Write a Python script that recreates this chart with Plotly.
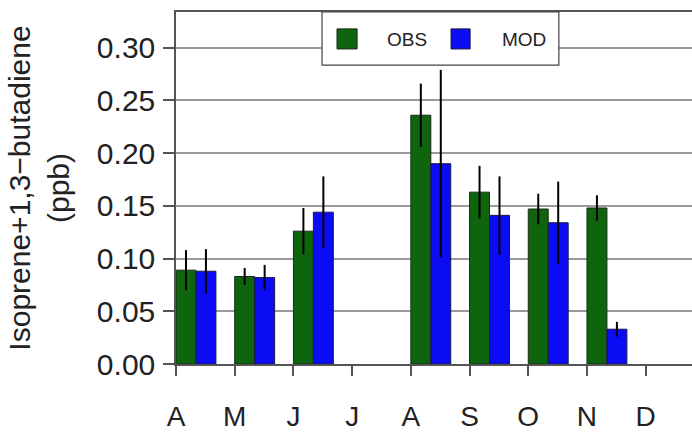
import plotly.graph_objects as go

months = ["A", "M", "J", "J", "A", "S", "O", "N", "D"]
month_idx = list(range(len(months)))
obs = [0.089, 0.083, 0.126, None, 0.236, 0.163, 0.147, 0.148, None]
obs_err = [0.019, 0.008, 0.022, None, 0.030, 0.025, 0.0145, 0.012, None]
mod = [0.088, 0.082, 0.144, None, 0.190, 0.141, 0.134, 0.033, None]
mod_err = [0.021, 0.012, 0.034, None, 0.089, 0.037, 0.039, 0.007, None]
yticks = [0.00, 0.05, 0.10, 0.15, 0.20, 0.25, 0.30]

GREEN = "#0e650e"
BLUE = "#0c0cf4"
BW = 0.34
FONT = "Liberation Sans, Arial, Helvetica, sans-serif"

fig = go.Figure()
fig.add_trace(go.Bar(
    x=month_idx, y=obs, name="OBS", offset=0, width=BW,
    marker=dict(color=GREEN, line=dict(color="#1c2a1c", width=1)),
    error_y=dict(type="data", array=obs_err, visible=True, color="black", thickness=2, width=0),
))
fig.add_trace(go.Bar(
    x=month_idx, y=mod, name="MOD", offset=BW, width=BW,
    marker=dict(color=BLUE, line=dict(color="#1a1a40", width=1)),
    error_y=dict(type="data", array=mod_err, visible=True, color="black", thickness=2, width=0),
))

# legend box drawn manually
lx0, lx1, ly0, ly1 = 0.283, 0.742, 0.849, 1.0
fig.add_shape(type="rect", xref="paper", yref="paper", x0=lx0, x1=lx1, y0=ly0, y1=ly1,
              line=dict(color="#444444", width=1.2), fillcolor="white", layer="above")
fig.add_shape(type="rect", xref="paper", yref="paper", x0=0.312, x1=0.351, y0=0.895, y1=0.952,
              line=dict(color="#1c2a1c", width=1), fillcolor=GREEN, layer="above")
fig.add_shape(type="rect", xref="paper", yref="paper", x0=0.533, x1=0.570, y0=0.895, y1=0.952,
              line=dict(color="#1a1a40", width=1), fillcolor=BLUE, layer="above")
fig.add_annotation(xref="paper", yref="paper", x=0.405, y=0.923, text="OBS", showarrow=False,
                   xanchor="left", yanchor="middle", font=dict(size=19, color="#222", family=FONT))
fig.add_annotation(xref="paper", yref="paper", x=0.628, y=0.923, text="MOD", showarrow=False,
                   xanchor="left", yanchor="middle", font=dict(size=19, color="#222", family=FONT))

fig.update_layout(
    width=692, height=433,
    margin=dict(l=176, r=0, t=12, b=69),
    paper_bgcolor="white", plot_bgcolor="white",
    barmode="overlay", showlegend=False,
    font=dict(family=FONT, size=29, color="#222222"),
    xaxis=dict(
        range=[0, 8.789], tickmode="array", tickvals=month_idx, ticktext=months,
        automargin=False,
        showgrid=False, zeroline=False, showline=True, mirror=True,
        linecolor="#555555", linewidth=1.5,
        ticks="outside", ticklen=10, tickwidth=1.5, tickcolor="#555555",
        ticklabelstandoff=17,
        tickfont=dict(size=28, family=FONT, color="#222"),
    ),
    yaxis=dict(
        range=[0, 0.3339], tickmode="array", tickvals=yticks,
        ticktext=[f"{v:.2f}" for v in yticks],
        automargin=False,
        showgrid=True, gridcolor="#9a9a9a", gridwidth=1.5, zeroline=False,
        showline=True, linecolor="#555555", linewidth=1.5,
        ticks="outside", ticklen=11, tickwidth=1.5, tickcolor="#555555",
        ticklabelstandoff=2,
        tickfont=dict(size=30, family=FONT, color="#222"),
        title=dict(text="Isoprene+1,3\u2212butadiene<br>(ppb)", standoff=18,
                   font=dict(size=30, family=FONT, color="#222")),
    ),
)

fig.write_html(
    "out.html",
    config={"displayModeBar": False},
    post_script="document.body.style.margin='0';document.body.style.overflow='hidden';",
)
